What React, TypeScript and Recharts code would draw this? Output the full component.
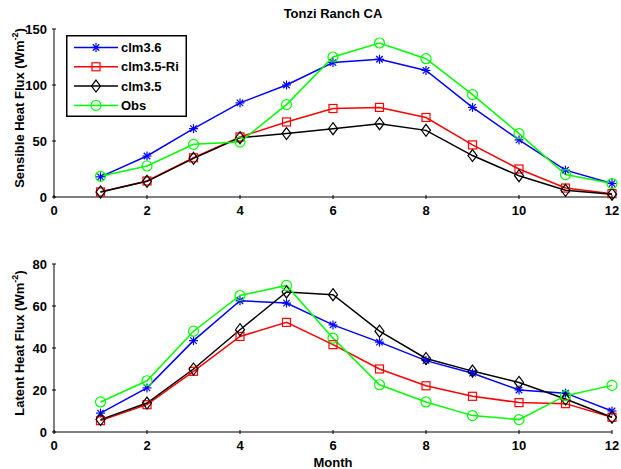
import React from 'react';
import { LineChart, Line, XAxis, YAxis, Legend } from 'recharts';

// ---- data ----
const months = [1, 2, 3, 4, 5, 6, 7, 8, 9, 10, 11, 12];
const monthTicks = [0, 2, 4, 6, 8, 10, 12];
const sensibleTicks = [0, 50, 100, 150];
const latentTicks = [0, 20, 40, 60, 80];

const seriesNames = ['clm3.6', 'clm3.5-Ri', 'clm3.5', 'Obs'];
const seriesColors = ['#0000ff', '#ff0000', '#000000', '#00ff00'];
const seriesMarkers = ['star', 'square', 'diamond', 'circle'];

const sensibleClm36 = [18, 36.6, 61, 84, 100, 120, 123, 113, 80, 51, 24, 12];
const sensibleClm35Ri = [4.5, 14.3, 35, 53.6, 67, 79, 80, 71, 46.5, 25, 8, 3];
const sensibleClm35 = [4.5, 14, 34.5, 53, 56.6, 61, 65.5, 59.5, 37, 19, 6, 2.5];
const sensibleObs = [18.5, 27.7, 47, 49, 82.5, 125, 137.5, 123.5, 91.4, 56.6, 20, 12];

const latentClm36 = [9, 21, 43.5, 62.5, 61.4, 51, 42.8, 34, 28, 20, 18.5, 10];
const latentClm35Ri = [5.4, 13, 28.9, 45.5, 52.2, 41.6, 30, 22, 17, 14, 13.5, 7];
const latentClm35 = [5.9, 13.8, 30, 48.7, 66.7, 65.4, 48, 35, 29, 23.6, 15.7, 7];
const latentObs = [14.3, 24.4, 48, 65, 69.8, 44.7, 22.5, 14.3, 7.8, 5.9, 17.3, 22.2];

const sensibleSeries = [sensibleClm36, sensibleClm35Ri, sensibleClm35, sensibleObs];
const latentSeries = [latentClm36, latentClm35Ri, latentClm35, latentObs];

const sensibleData = months.map((m, i) => {
  const row: any = { month: m };
  seriesNames.forEach((n, k) => (row[n] = sensibleSeries[k][i]));
  return row;
});
const latentData = months.map((m, i) => {
  const row: any = { month: m };
  seriesNames.forEach((n, k) => (row[n] = latentSeries[k][i]));
  return row;
});

const FONT = '"Liberation Sans", Arial, Helvetica, sans-serif';

function Marker({ kind, cx, cy, color }: { kind: string; cx: number; cy: number; color: string }) {
  const sw = 1.2;
  if (kind === 'star') {
    const r = 4.5;
    const d = r * 0.72;
    return (
      <g stroke={color} strokeWidth={sw}>
        <line x1={cx - r} y1={cy} x2={cx + r} y2={cy} />
        <line x1={cx} y1={cy - r} x2={cx} y2={cy + r} />
        <line x1={cx - d} y1={cy - d} x2={cx + d} y2={cy + d} />
        <line x1={cx - d} y1={cy + d} x2={cx + d} y2={cy - d} />
      </g>
    );
  }
  if (kind === 'square') {
    return <rect x={cx - 4} y={cy - 4} width={8} height={8} fill="none" stroke={color} strokeWidth={sw} />;
  }
  if (kind === 'diamond') {
    return (
      <polygon
        points={`${cx},${cy - 6} ${cx + 4.5},${cy} ${cx},${cy + 6} ${cx - 4.5},${cy}`}
        fill="none"
        stroke={color}
        strokeWidth={sw}
      />
    );
  }
  return <circle cx={cx} cy={cy} r={5} fill="none" stroke={color} strokeWidth={sw} />;
}

const XTick = (props: any) => {
  const { x, y, payload } = props;
  return (
    <g>
      <line x1={x} x2={x} y1={y} y2={y - 4} stroke="#000" strokeWidth={1} />
      <text x={x} y={y + 16} textAnchor="middle" fontFamily={FONT} fontWeight="bold" fontSize={13} fill="#000">
        {payload.value}
      </text>
    </g>
  );
};

const YTick = (props: any) => {
  const { x, y, payload } = props;
  return (
    <g>
      <line x1={x} x2={x + 4} y1={y} y2={y} stroke="#000" strokeWidth={1} />
      <text x={x - 5} y={y + 4.7} textAnchor="end" fontFamily={FONT} fontWeight="bold" fontSize={13} fill="#000">
        {payload.value}
      </text>
    </g>
  );
};

const makeYLabel = (title: string) => (props: any) => {
  const vb = props.viewBox || { x: 10, y: 29, width: 44, height: 168 };
  const cy = vb.y + vb.height / 2 - 5;
  return (
    <text
      transform={`translate(24, ${cy}) rotate(-90)`}
      textAnchor="middle"
      fontFamily={FONT}
      fontWeight="bold"
      fontSize={13}
      fill="#000"
    >
      {title} (Wm
      <tspan fontSize={9} dy={-6}>-2</tspan>
      <tspan dy={6}>)</tspan>
    </text>
  );
};

const MonthLabel = (props: any) => {
  const vb = props.viewBox || { x: 54, y: 197, width: 558, height: 34 };
  return (
    <text
      x={vb.x + vb.width / 2}
      y={vb.y + 34.5}
      textAnchor="middle"
      fontFamily={FONT}
      fontWeight="bold"
      fontSize={13}
      fill="#000"
    >
      Month
    </text>
  );
};

const LegendBox = (props: any) => {
  const payload = [...(props.payload || [])].sort(
    (a: any, b: any) => seriesNames.indexOf(a.value) - seriesNames.indexOf(b.value)
  );
  return (
    <svg width={121} height={82} style={{ display: 'block' }}>
      <rect x={0.75} y={0.75} width={119.5} height={80.5} fill="#fff" stroke="#000" strokeWidth={1.5} />
      {payload.map((entry: any, i: number) => {
        const idx = seriesNames.indexOf(entry.value);
        const cy = 12.5 + i * 19.3;
        const color = seriesColors[idx];
        return (
          <g key={entry.value}>
            <line x1={8} x2={52} y1={cy} y2={cy} stroke={color} strokeWidth={1.5} />
            <Marker kind={seriesMarkers[idx]} cx={30} cy={cy} color={color} />
            <text x={55} y={cy + 4.6} fontFamily={FONT} fontWeight="bold" fontSize={13} fill="#000">
              {entry.value}
            </text>
          </g>
        );
      })}
    </svg>
  );
};

function renderLines() {
  return seriesNames.map((name, k) => (
    <Line
      key={name}
      type="linear"
      dataKey={name}
      name={name}
      stroke={seriesColors[k]}
      strokeWidth={1.5}
      isAnimationActive={false}
      dot={(p: any) => (
        <Marker key={`${name}-${p.index}`} kind={seriesMarkers[k]} cx={p.cx} cy={p.cy} color={seriesColors[k]} />
      )}
      activeDot={false}
    />
  ));
}

export default function App() {
  return (
    <div
      style={{
        position: 'absolute',
        left: 0,
        top: 0,
        width: 621,
        height: 469,
        background: '#fff',
        fontFamily: FONT,
        overflow: 'hidden',
      }}
    >
      <div
        style={{
          position: 'absolute',
          left: 54,
          width: 558,
          top: 6,
          lineHeight: '16px',
          fontSize: 13,
          fontWeight: 'bold',
          textAlign: 'center',
          color: '#000',
        }}
      >
        Tonzi Ranch CA
      </div>

      <div style={{ position: 'absolute', left: 0, top: 0 }}>
        <LineChart width={621} height={230} data={sensibleData} margin={{ top: 29, right: 9, bottom: 3, left: 10 }}>
          <XAxis
            dataKey="month"
            type="number"
            domain={[0, 12]}
            ticks={monthTicks}
            interval={0}
            height={30}
            tickSize={0}
            tickLine={false}
            axisLine={{ stroke: '#000', strokeWidth: 1 }}
            tick={<XTick />}
          />
          <YAxis
            type="number"
            domain={[0, 150]}
            ticks={sensibleTicks}
            interval={0}
            width={44}
            tickSize={0}
            tickLine={false}
            axisLine={{ stroke: '#000', strokeWidth: 1 }}
            tick={<YTick />}
            label={{ content: makeYLabel('Sensible Heat Flux') }}
          />
          {renderLines()}
          <Legend
            layout="vertical"
            align="center"
            verticalAlign="middle"
            content={<LegendBox />}
            wrapperStyle={{ position: 'absolute', left: 66, top: 35, width: 121, height: 82 }}
          />
        </LineChart>
      </div>

      <div style={{ position: 'absolute', left: 0, top: 235 }}>
        <LineChart width={621} height={234} data={latentData} margin={{ top: 29, right: 9, bottom: 3, left: 10 }}>
          <XAxis
            dataKey="month"
            type="number"
            domain={[0, 12]}
            ticks={monthTicks}
            interval={0}
            height={34}
            tickSize={0}
            tickLine={false}
            axisLine={{ stroke: '#000', strokeWidth: 1 }}
            tick={<XTick />}
            label={{ content: MonthLabel }}
          />
          <YAxis
            type="number"
            domain={[0, 80]}
            ticks={latentTicks}
            interval={0}
            width={44}
            tickSize={0}
            tickLine={false}
            axisLine={{ stroke: '#000', strokeWidth: 1 }}
            tick={<YTick />}
            label={{ content: makeYLabel('Latent Heat Flux') }}
          />
          {renderLines()}
        </LineChart>
      </div>
    </div>
  );
}
